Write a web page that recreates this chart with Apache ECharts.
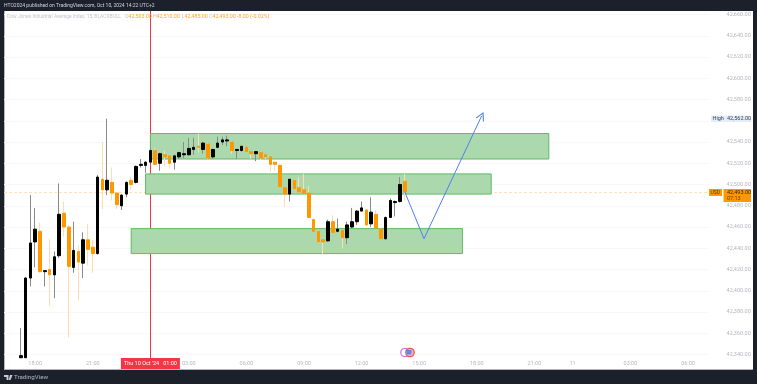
<!DOCTYPE html>
<html><head><meta charset="utf-8">
<style>html,body{margin:0;padding:0;background:#1c202b}#c{width:757px;height:384px}</style>
<script src="https://cdn.jsdelivr.net/npm/echarts@6/dist/echarts.min.js"></script>
</head><body><div id="c"></div>
<script>
const slotCount = 147;
const firstBar = 3;
const opens  = [42337,42337,42412,42446,42456,42418,42420,42415,42433,42473,42460,42422,42437,42426,42448,42441,42435,42505,42495,42502,42492,42480,42491,42504,42502,42518,42518,42521,42532,42520,42528,42527,42521,42526,42528,42528,42533,42536,42533,42538,42526,42535,42540,42541,42540,42532,42532,42535,42531,42529,42530,42528,42526,42521,42518,42497,42491,42504,42497,42495,42492,42467,42456,42448,42447,42465,42456,42457,42450,42460,42465,42475,42476,42463,42472,42458,42449,42469,42483,42484,42503];
const highs  = [42365,42413,42490,42478,42464,42419,42449,42437,42501,42484,42462,42465,42443,42455,42463,42448,42509,42540,42562,42516,42492,42491,42503,42507,42518,42524,42522,42534,42534,42530,42532,42528,42528,42531,42540,42544,42544,42548,42540,42539,42534,42545,42545,42546,42541,42533,42536,42535,42531,42531,42530,42528,42526,42521,42519,42497,42505,42505,42507,42510,42499,42468,42457,42448,42467,42471,42468,42458,42465,42478,42476,42484,42477,42488,42476,42459,42470,42487,42485,42507,42510];
const lows   = [42337,42337,42404,42422,42417,42404,42386,42393,42431,42451,42356,42417,42391,42412,42424,42417,42434,42477,42490,42485,42477,42476,42488,42495,42501,42516,42511,42520,42518,42513,42517,42515,42514,42524,42525,42527,42528,42530,42529,42524,42524,42534,42537,42536,42529,42524,42531,42530,42524,42522,42523,42524,42512,42513,42498,42479,42484,42495,42492,42492,42469,42456,42445,42434,42446,42455,42455,42440,42444,42459,42462,42475,42461,42460,42459,42449,42448,42469,42470,42483,42485];
const closes = [42339,42412,42445,42458,42418,42419,42415,42432,42472,42460,42423,42438,42427,42448,42439,42435,42507,42495,42504,42492,42481,42490,42502,42500,42517,42519,42521,42532,42519,42529,42526,42520,42527,42530,42529,42534,42535,42535,42539,42525,42533,42539,42542,42542,42532,42533,42536,42531,42529,42531,42525,42526,42519,42519,42498,42491,42505,42496,42493,42492,42469,42456,42446,42446,42465,42455,42458,42450,42462,42465,42475,42478,42462,42474,42459,42449,42469,42485,42484,42500,42493];

const tickBars   = [6,18,38,50,62,74,86,98,110,118,130,142];
const tickLabels = ['18:00','21:00','03:00','06:00','09:00','12:00','15:00','18:00','21:00','11','03:00','06:00'];
const priceTicks = [42340,42360,42380,42400,42420,42440,42460,42480,42500,42520,42540,42560,42580,42600,42620,42640,42660];

const zoneStart = [30,29,26], zoneEnd = [113,101,95];
const zoneTop = [42548,42510,42458.5], zoneBottom = [42524,42491,42435];
const pathBars = [83,87,99], pathPrices = [42493,42449,42564.5];
const crosshairBar = 30, crosshairLabel = "Thu 10 Oct '24   01:00";
const lastPrice = 42493, highPrice = 42562;

const fmt = v => v.toLocaleString('en-US',{minimumFractionDigits:2,maximumFractionDigits:2});
const categories = Array.from({length:slotCount},(_,i)=>{const k=tickBars.indexOf(i);return k>=0?tickLabels[k]:'';});
const pad = a => { const r = new Array(slotCount).fill('-'); a.forEach((v,i)=>{r[firstBar+i]=v;}); return r; };
const wickData = pad(opens.map((o,i)=>[o,closes[i],lows[i],highs[i]]));
const bodyData = pad(opens.map((o,i)=>[o,closes[i],Math.min(o,closes[i]),Math.max(o,closes[i])]));

const FONT='Roboto, "Liberation Sans", sans-serif';
const DARK='#1c202b', GREY='#b6b8c0', ORANGE='#ff9800';
const legendTxt = (x,text,fill,size)=>({type:'text',silent:true,z:20,x:x,y:14.5,style:{text:text,fill:fill,font:size+'px '+FONT}});
const chart = echarts.init(document.getElementById('c'),null,{renderer:'canvas'});
chart.setOption({
  animation:false,
  backgroundColor:DARK,
  grid:{left:4,top:11,width:705.6,height:358,show:false,containLabel:false},
  xAxis:{type:'category',data:categories,boundaryGap:true,
    axisLine:{show:false},axisTick:{show:false},splitLine:{show:false},
    axisLabel:{inside:true,interval:0,margin:2,fontSize:5.5,color:GREY,fontFamily:FONT}},
  yAxis:{type:'value',position:'right',min:42326.4,max:42663.3,scale:true,
    axisLine:{show:false},
    axisTick:{show:false,customValues:priceTicks},
    splitLine:{show:true,lineStyle:{color:'#f8f8fa',width:1}},
    axisLabel:{customValues:priceTicks,margin:17,align:'left',fontSize:5.5,color:GREY,fontFamily:FONT,formatter:v=>fmt(v)}},
  series:[
    {name:'guides',type:'line',data:[],z:1,silent:true,
      markLine:{silent:true,symbol:'none',animation:false,z:1,data:[
        {xAxis:crosshairBar,lineStyle:{color:'#f23645',width:1,type:'solid'},
          label:{show:true,position:'start',distance:-11,formatter:crosshairLabel,color:'#fff',fontSize:5.5,fontFamily:FONT,
            backgroundColor:'#f23645',padding:[2.5,3,2.5,3]}},
        {yAxis:lastPrice,lineStyle:{color:'#ffe2b5',width:1,type:[3,2]},label:{show:false}}
      ]}},
    {name:'zones',type:'line',data:[],z:2,silent:true,
      markArea:{silent:true,animation:false,z:2,
        itemStyle:{color:'#abd9ad',borderColor:'#5fb963',borderWidth:1},
        data:zoneStart.map((s,i)=>[{xAxis:s,yAxis:zoneTop[i]},{xAxis:zoneEnd[i],yAxis:zoneBottom[i]}])}},
    {name:'wicks',type:'candlestick',data:wickData,barWidth:1,z:3,silent:true,clip:true,
      itemStyle:{color:'#8a8a8a',color0:'#ffdcaa',borderColor:'#8a8a8a',borderColor0:'#ffdcaa',borderWidth:1}},
    {name:'bodies',type:'candlestick',data:bodyData,barWidth:3,z:4,silent:true,clip:true,
      itemStyle:{color:'#000000',color0:ORANGE,borderColor:'#000000',borderColor0:ORANGE,borderWidth:1},
      markLine:{silent:true,animation:false,z:5,symbol:'none',
        lineStyle:{color:'#4f80f5',width:1,type:'solid'},label:{show:false},
        data:[
          [{coord:[pathBars[0],pathPrices[0]]},{coord:[pathBars[1],pathPrices[1]]}],
          [{coord:[pathBars[1],pathPrices[1]],symbol:'none'},
           {coord:[pathBars[2],pathPrices[2]],symbol:'path://M0,-10 L-10,7 L-8,8.5 L0,-5 L8,8.5 L10,7 Z',symbolSize:9}]
        ]}}
  ],
  graphic:{elements:[
    {type:'rect',silent:true,z:-5,shape:{x:4,y:11,width:749,height:358},style:{fill:'#ffffff'}},
    {type:'rect',silent:true,z:-4,shape:{x:4,y:11,width:1,height:358},style:{fill:'#b2b5be'}},
    {type:'rect',silent:true,z:-4,shape:{x:4,y:369,width:749,height:1},style:{fill:'#b2b5be'}},
    {type:'text',silent:true,z:20,x:4,y:3,style:{text:'HTO2024 published on TradingView.com, Oct 10, 2024 14:22 UTC+2',fill:'#d1d4dc',font:'5px '+FONT}},
    legendTxt(7,'Dow Jones Industrial Average Index, 15, BLACKBULL','#c4c6cc',4.9),
    legendTxt(125,'O','#c4c6cc',5.2), legendTxt(128.5,'42,503.00','#ffa726',5.3),
    legendTxt(153,'H','#c4c6cc',5.2), legendTxt(156.5,'42,510.00','#ffa726',5.3),
    legendTxt(181.5,'L','#c4c6cc',5.2), legendTxt(184.5,'42,485.00','#ffa726',5.3),
    legendTxt(209,'C','#c4c6cc',5.2), legendTxt(212.5,'42,493.00','#ffa726',5.3),
    legendTxt(237,'-8.00 (-0.02%)','#ffa726',5.3),
    {type:'rect',silent:true,z:20,shape:{x:711,y:115.5,width:39,height:6.5},style:{fill:'#e3eefb'}},
    {type:'text',silent:true,z:21,x:712.5,y:116,style:{text:'High',fill:'#3a3f4a',font:'5.5px '+FONT}},
    {type:'text',silent:true,z:21,x:727,y:116,style:{text:fmt(highPrice),fill:'#3a3f4a',font:'5.5px '+FONT}},
    {type:'rect',silent:true,z:20,shape:{x:709,y:189,width:13,height:7},style:{fill:ORANGE}},
    {type:'text',silent:true,z:21,x:710.5,y:190,style:{text:'USD',fill:'#5a3a00',font:'5px '+FONT}},
    {type:'rect',silent:true,z:20,shape:{x:723.5,y:189,width:27.5,height:13},style:{fill:ORANGE}},
    {type:'text',silent:true,z:21,x:727,y:190,style:{text:fmt(lastPrice),fill:'#3a2500',font:'5.5px '+FONT}},
    {type:'text',silent:true,z:21,x:727,y:196,style:{text:'07:13',fill:'#6a4500',font:'5.5px '+FONT}},
    {type:'circle',silent:true,z:20,shape:{cx:405,cy:352.5,r:4.2},style:{fill:'#fff',stroke:'#c77ddb',lineWidth:1.3}},
    {type:'circle',silent:true,z:21,shape:{cx:410,cy:352.5,r:4.2},style:{fill:'#f9b4b4',stroke:'#ef5350',lineWidth:1.3}},
    {type:'rect',silent:true,z:22,shape:{x:406.5,y:350,width:5,height:4.5},style:{fill:'#4f90ee'}},
    {type:'polygon',silent:true,z:20,shape:{points:[[4,375],[8.5,375],[8.5,380],[6.5,380],[6.5,377],[4,377]]},style:{fill:'#c8cad0'}},
    {type:'polygon',silent:true,z:20,shape:{points:[[10,375],[12.5,375],[10.5,380],[8.8,380]]},style:{fill:'#c8cad0'}},
    {type:'text',silent:true,z:20,x:14,y:374.5,style:{text:'TradingView',fill:'#b2b5be',font:'6.2px '+FONT}}
  ]}
});
</script></body></html>
